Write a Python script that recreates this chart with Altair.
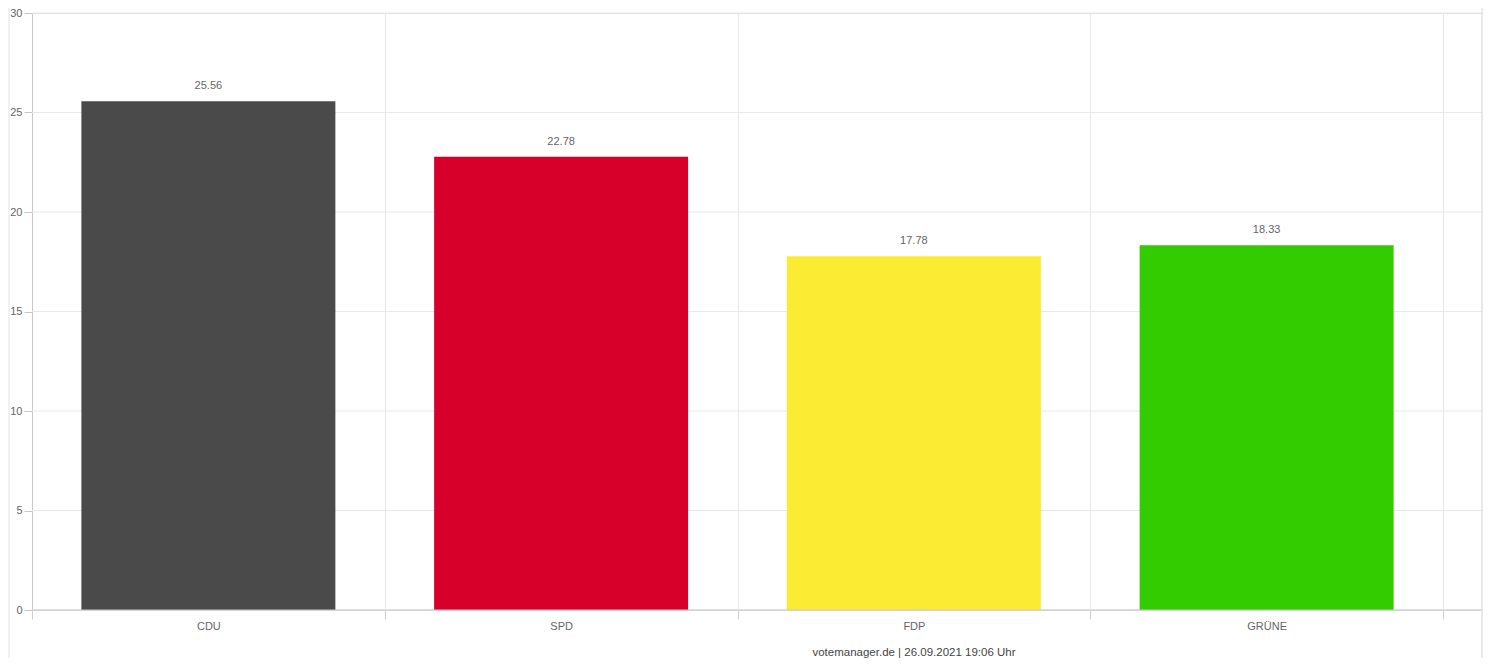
import altair as alt
import pandas as pd

parties = ["CDU", "SPD", "FDP", "GRÜNE"]
values = [25.56, 22.78, 17.78, 18.33]
colors = ["#4a4a4a", "#d6002a", "#fbec33", "#33cc00"]
y_ticks = [0, 5, 10, 15, 20, 25, 30]
footer = "votemanager.de | 26.09.2021 19:06 Uhr"

df = pd.DataFrame({"party": parties, "value": values})
grid_df = pd.DataFrame({"t": y_ticks})
one = pd.DataFrame({"k": [0]})

W = 1451
H = 597
FONT = "Liberation Sans"

x_scale = alt.Scale(range=[0, 1411], paddingInner=0, paddingOuter=0)
y_scale = alt.Scale(domain=[0, 30], nice=False)

x_enc = alt.X(
    "party:N",
    sort=parties,
    title=None,
    scale=x_scale,
    axis=alt.Axis(
        tickBand="extent",
        grid=True,
        gridColor="#e8e8e8",
        domain=False,
        tickColor="#d0d0d0",
        tickSize=9,
        labelColor="#666666",
        labelFontSize=11,
        labelFont=FONT,
        labelPadding=1,
        labelAngle=0,
    ),
)
y_enc = alt.Y(
    "value:Q",
    title=None,
    scale=y_scale,
    axis=alt.Axis(
        values=y_ticks,
        grid=False,
        domainColor="#c8c8c8",
        tickColor="#c8c8c8",
        tickSize=8,
        labelColor="#666666",
        labelFontSize=11,
        labelFont=FONT,
        labelPadding=2,
    ),
)

hgrid = alt.Chart(grid_df).mark_rule(color="#e8e8e8", strokeWidth=1).encode(
    y=alt.Y("t:Q", scale=y_scale), x=alt.value(0), x2=alt.value(W)
)

bars = alt.Chart(df).mark_bar(width=alt.RelativeBandSize(0.72)).encode(
    x=x_enc,
    y=y_enc,
    color=alt.Color("party:N", scale=alt.Scale(domain=parties, range=colors), legend=None),
)

labels = alt.Chart(df).mark_text(
    dy=-12, baseline="alphabetic", align="center", fontSize=11, font=FONT, color="#666666"
).encode(
    x=alt.X("party:N", sort=parties),
    y=alt.Y("value:Q"),
    text=alt.Text("value:Q", format=".2f"),
)

zero_line = alt.Chart(one).mark_rule(color="#c8c8c8", strokeWidth=1).encode(
    y=alt.datum(0), x=alt.value(0), x2=alt.value(W)
)

border_color = "#dfe4ea"
border_right = alt.Chart(one).mark_rule(color=border_color, strokeWidth=1.5).encode(
    x=alt.value(W - 1), y=alt.value(-13), y2=alt.value(653)
)
border_bottom = alt.Chart(one).mark_rule(color=border_color, strokeWidth=2).encode(
    x=alt.value(-23), x2=alt.value(W), y=alt.value(653)
)
border_left = alt.Chart(one).mark_rule(color=border_color, strokeWidth=1).encode(
    x=alt.value(-23), y=alt.value(-13), y2=alt.value(653)
)

footer_text = alt.Chart(one).mark_text(
    align="center", baseline="middle", fontSize=11.5, font=FONT, color="#444444"
).encode(
    x=alt.value(882), y=alt.value(640), text=alt.value(footer)
)

chart = (
    alt.layer(hgrid, bars, labels, zero_line, border_right, border_bottom, border_left, footer_text)
    .properties(
        width=W,
        height=H,
        autosize=alt.AutoSizeParams(type="none"),
        padding={"left": 24, "top": 5, "right": 0, "bottom": 48},
    )
    .configure_view(stroke=None)
    .configure(background="white")
)

chart.save("out.html", embed_options={"renderer": "svg", "actions": False})
